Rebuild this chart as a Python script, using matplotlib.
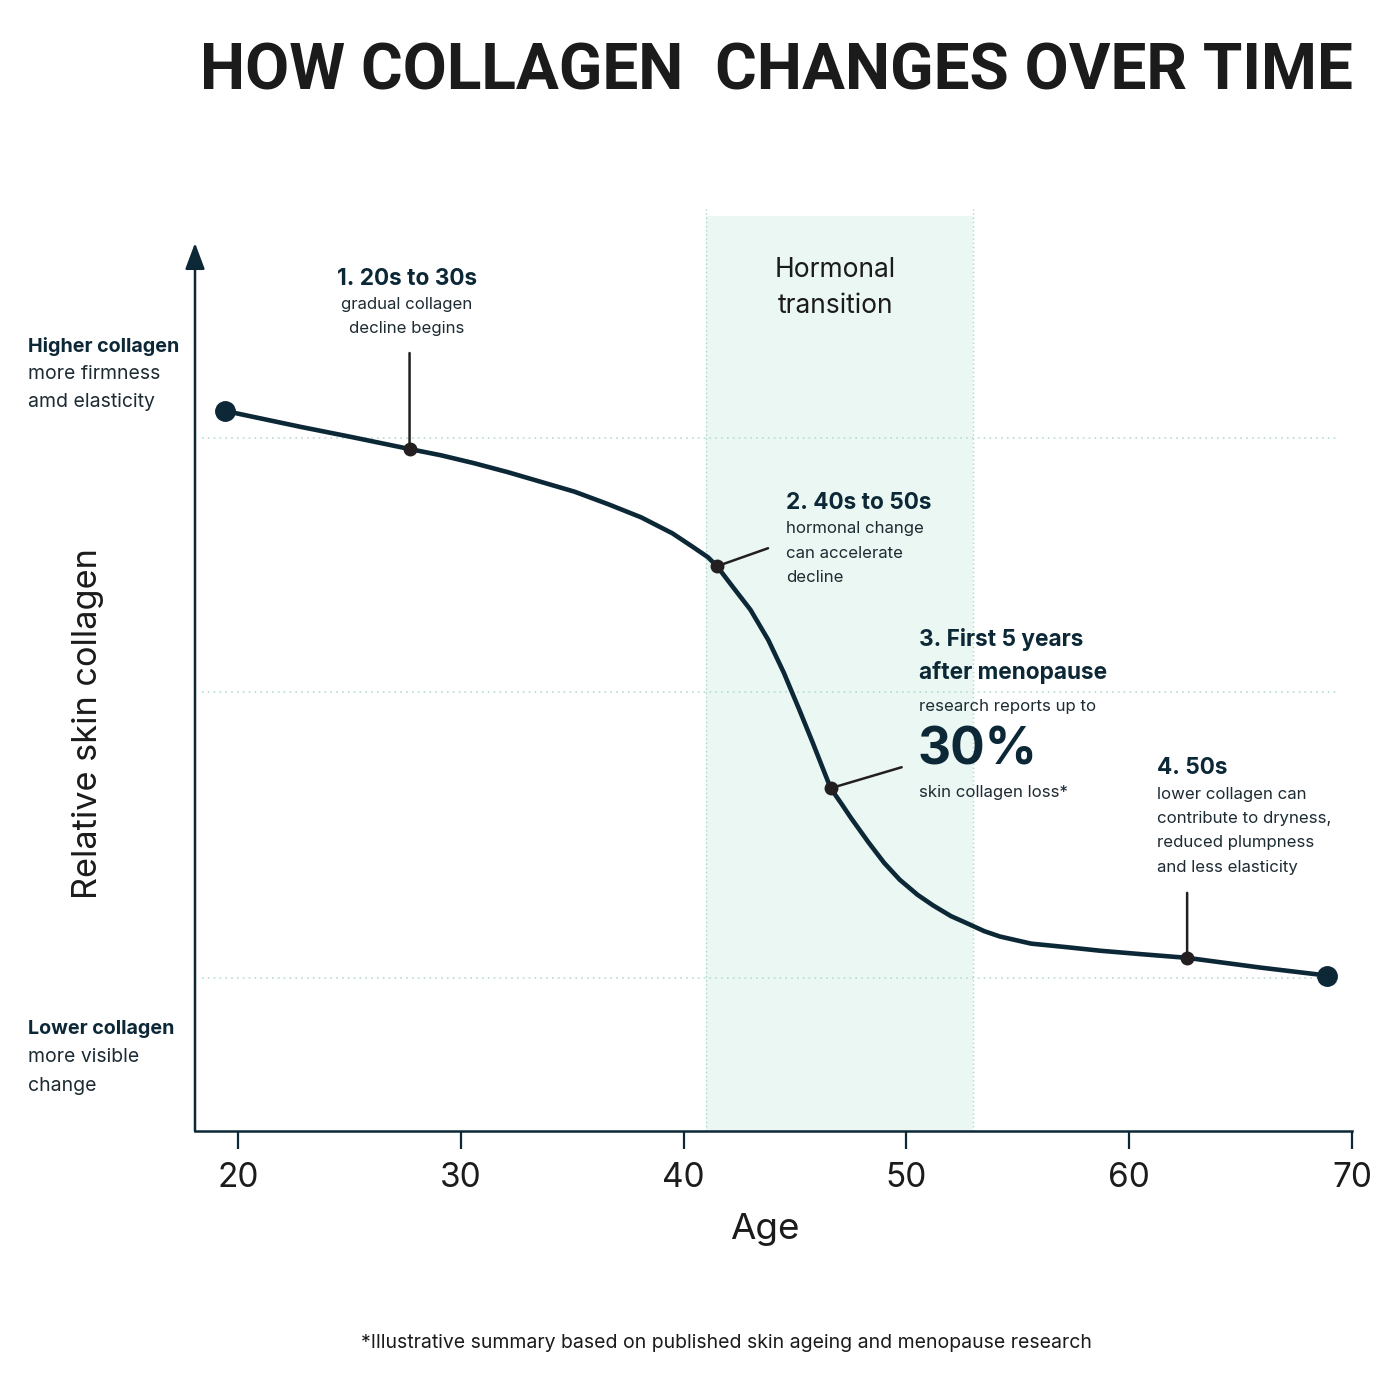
import matplotlib
matplotlib.use("Agg")
import matplotlib.pyplot as plt

# curve: age vs relative skin collagen (0-100, arbitrary)
age = [19.4, 22.8, 25.0, 27.7, 29.1, 30.6, 32.1, 33.6, 35.1, 36.6, 38.1,
       39.5, 40.4, 41.1, 41.5, 42.2, 43.0, 43.8, 44.5, 45.2, 45.8, 46.6,
       47.1, 47.5, 48.3, 49.0, 49.7, 50.5, 51.2, 52.0, 52.8, 53.5, 54.2,
       55.6, 57.2, 58.7, 60.6, 62.6, 65.9, 68.9]
collagen = [81.1, 79.3, 78.2, 76.8, 76.1, 75.2, 74.2, 73.1, 72.0, 70.6, 69.1,
            67.3, 65.8, 64.6, 63.6, 61.3, 58.7, 55.3, 51.6, 47.4, 43.7, 38.6,
            36.8, 35.3, 32.5, 30.2, 28.3, 26.6, 25.4, 24.2, 23.3, 22.5, 21.9,
            21.1, 20.7, 20.3, 19.9, 19.5, 18.4, 17.5]

milestone_age = [27.7, 41.5, 46.6, 62.6]
milestone_val = [76.8, 63.6, 38.6, 19.5]
grid_levels = [78.0, 49.4, 17.2]
band_start, band_end = 41, 53
xticks = [20, 30, 40, 50, 60, 70]

navy = '#0c2836'
ink = '#231f20'
body = '#1d2b33'

plt.rcParams['font.family'] = ['Inter', 'DejaVu Sans']

fig = plt.figure(figsize=(14, 14), dpi=100)
W = H = 1400.0

def px(x, y):
    return x / W, 1 - y / H

# axes: left spine at px 195, bottom at px 1131, x=70 at px 1352
ax = fig.add_axes([195 / W, 1 - 1131 / H, (1352 - 195) / W, 105 * 8.88 / H])
ax.set_xlim(18.07, 70)
ax.set_ylim(0, 105)

ax.fill_between([band_start, band_end], 0, 103, color='#eaf7f2', lw=0, zorder=0)
ax.vlines([band_start, band_end], 0, 103.8, colors='#a9d8c6', linestyles=(0, (1, 2)), lw=1, zorder=1)
ax.hlines(grid_levels, 18.4, 69.4, colors='#b5ddd0', linestyles=(0, (1, 2.5)), lw=1.2, zorder=1)

ax.plot(age, collagen, color=navy, lw=3.3, solid_capstyle='round', solid_joinstyle='round', zorder=3)
ax.plot([age[0], age[-1]], [collagen[0], collagen[-1]], 'o', color=navy, ms=14, zorder=4)
ax.plot(milestone_age, milestone_val, 'o', color=ink, ms=9, zorder=5)

# leader lines from the milestones to their notes
offsets = [(0, 96), (51, 18), (71, 21), (0, 65)]
for a, v, off in zip(milestone_age, milestone_val, offsets):
    ax.annotate('', xy=(a, v), xytext=off, textcoords='offset pixels',
                arrowprops=dict(arrowstyle='-', color=ink, lw=1.8, shrinkA=0, shrinkB=0), zorder=4)

for s in ['top', 'right', 'left']:
    ax.spines[s].set_visible(False)
ax.spines['bottom'].set_color(navy)
ax.spines['bottom'].set_linewidth(1.8)
ax.set_yticks([])
ax.set_xticks(xticks)
ax.tick_params(axis='x', direction='out', length=13, width=1.6, color=navy,
               labelsize=24, labelcolor='#1c1c1c', pad=9)

# y axis with arrow
ax.annotate('', xy=(0, 100), xytext=(0, 0), xycoords=('axes fraction', 'data'),
            textcoords=('axes fraction', 'data'),
            arrowprops=dict(arrowstyle='-|>,head_length=0.8,head_width=0.3', mutation_scale=20,
                            color=navy, lw=1.8, shrinkA=0, shrinkB=0))

# title
fig.text(*px(776, 72), 'HOW COLLAGEN  CHANGES OVER TIME', ha='center', va='center',
         fontsize=46, fontweight='bold', color='#1b1b1b', family=['Roboto', 'DejaVu Sans'])

# axis labels
fig.text(*px(88, 724), 'Relative skin collagen', rotation=90, ha='center', va='center',
         fontsize=24.7, color='#1b1b1b')
fig.text(*px(765, 1230), 'Age', ha='center', va='center', fontsize=26.5, color='#1b1b1b')

# left side labels
fig.text(*px(28, 346), 'Higher collagen', ha='left', va='center', fontsize=14.2, fontweight='bold', color=navy)
fig.text(*px(28, 374), 'more firmness', ha='left', va='center', fontsize=14, color=body)
fig.text(*px(28, 402), 'amd elasticity', ha='left', va='center', fontsize=14, color=body)
fig.text(*px(28, 1029), 'Lower collagen', ha='left', va='center', fontsize=14.2, fontweight='bold', color=navy)
fig.text(*px(28, 1057), 'more visible', ha='left', va='center', fontsize=14, color=body)
fig.text(*px(28, 1086), 'change', ha='left', va='center', fontsize=14, color=body)

# band label
fig.text(*px(835, 270), 'Hormonal', ha='center', va='center', fontsize=19, color='#1b1b1b')
fig.text(*px(835, 306), 'transition', ha='center', va='center', fontsize=19, color='#1b1b1b')

# milestone notes
head = 16.3
small = 12.1
fig.text(*px(407, 279), '1. 20s to 30s', ha='center', va='center', fontsize=head, fontweight='bold', color=navy)
fig.text(*px(407, 305), 'gradual collagen', ha='center', va='center', fontsize=small, color=body)
fig.text(*px(407, 329), 'decline begins', ha='center', va='center', fontsize=small, color=body)

fig.text(*px(786, 503), '2. 40s to 50s', ha='left', va='center', fontsize=head, fontweight='bold', color=navy)
for i, t in enumerate(['hormonal change', 'can accelerate', 'decline']):
    fig.text(*px(786, 529 + 24 * i), t, ha='left', va='center', fontsize=small, color=body)

fig.text(*px(919, 640), '3. First 5 years', ha='left', va='center', fontsize=head, fontweight='bold', color=navy)
fig.text(*px(919, 672), 'after menopause', ha='left', va='center', fontsize=head, fontweight='bold', color=navy)
fig.text(*px(919, 706), 'research reports up to', ha='left', va='center', fontsize=small, color=body)
fig.text(*px(917, 751), '30%', ha='left', va='center', fontsize=37, fontweight='bold', color=navy)
fig.text(*px(919, 793), 'skin collagen loss*', ha='left', va='center', fontsize=small, color=body)

fig.text(*px(1157, 768), '4. 50s', ha='left', va='center', fontsize=head, fontweight='bold', color=navy)
for i, t in enumerate(['lower collagen can', 'contribute to dryness,', 'reduced plumpness', 'and less elasticity']):
    fig.text(*px(1157, 794 + 24.5 * i), t, ha='left', va='center', fontsize=small, color=body)

# footnote
fig.text(*px(726, 1343), '*Illustrative summary based on published skin ageing and menopause research',
         ha='center', va='center', fontsize=14, color='#1b1b1b')

fig.savefig('out.png', dpi=100, facecolor='white')
